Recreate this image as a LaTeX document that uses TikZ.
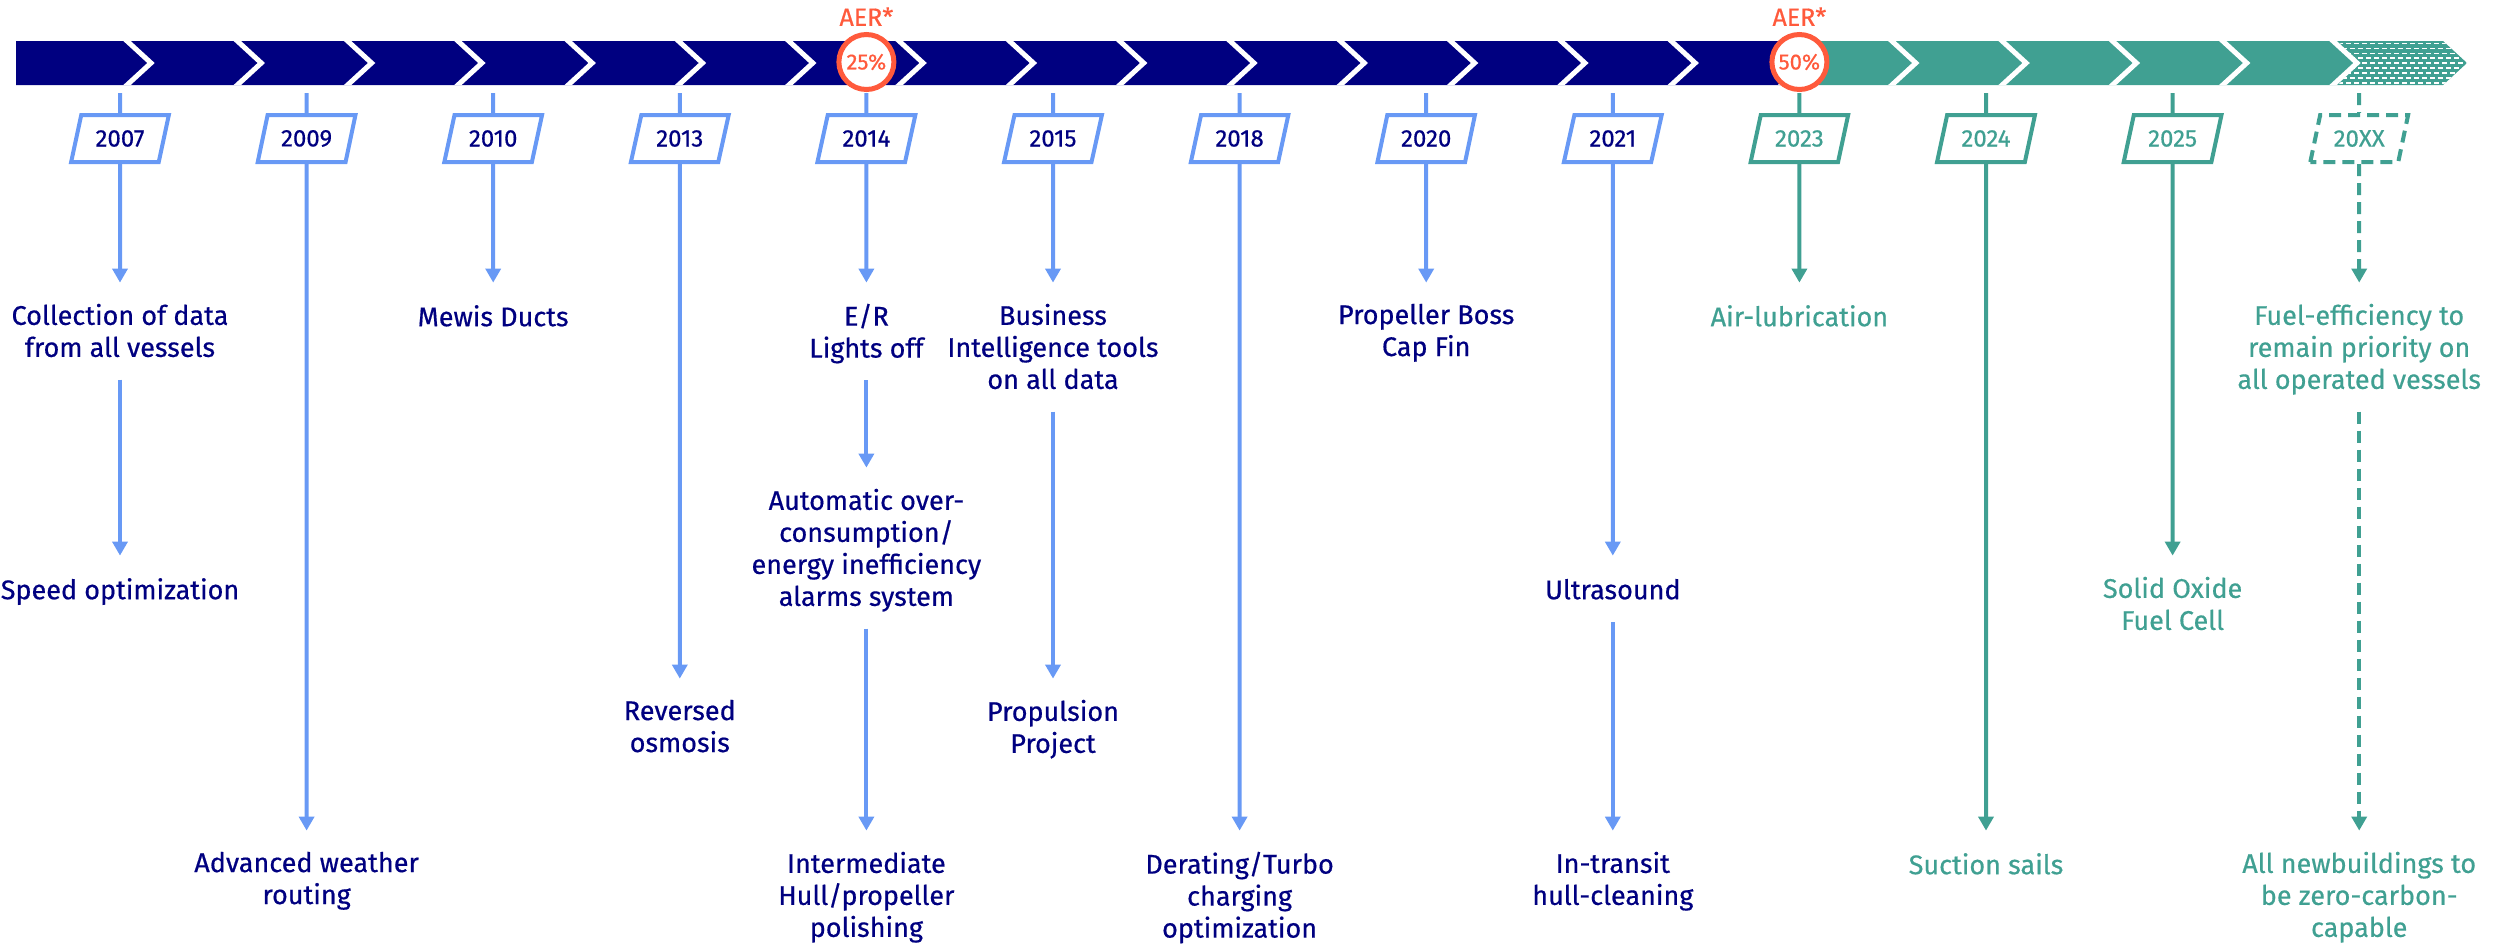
\documentclass[tikz,border=0pt]{standalone}
\usepackage{fontspec}
\setmainfont{Fira Sans}[FakeBold=0.5]
\usetikzlibrary{positioning,arrows.meta,shapes.geometric}

\definecolor{navy}{RGB}{0,0,128}
\definecolor{stemblue}{RGB}{104,153,245}
\definecolor{sea}{RGB}{64,160,146}
\definecolor{aer}{RGB}{255,90,60}

\tikzset{
	yearbox/.style={trapezium, trapezium left angle=69, trapezium right angle=111,
		trapezium stretches=true, minimum width=98pt, minimum height=47pt,
		inner sep=0pt, line width=4pt, fill=white, font=\fontsize{24}{28}\selectfont},
	stem/.style={line width=4pt},
	arr/.style={stem, -{Triangle[length=14pt,width=15pt]}, shorten >=21pt},
	ev/.style={font=\fontsize{27}{32}\selectfont, align=center, inner sep=0pt,
		anchor=north, execute at begin node=\strut, execute at end node=\strut},
	pct/.style={circle, draw=aer, line width=5pt, fill=white, minimum size=55pt,
		inner sep=0pt, text=aer, font=\fontsize{22}{26}\selectfont},
	aerlabel/.style={text=aer, inner sep=0pt, font=\fontsize{25}{30}\selectfont},
	future/.style={dash pattern=on 12pt off 7pt}
}

\begin{document}
\begin{tikzpicture}[x=1pt,y=-1pt]
	
	\useasboundingbox (0,0) rectangle (2493,943);
	
	% we draw the band, navy up to 2023 and green after it
	\begin{scope}
		\clip (16,41) -- (2443,41) -- (2467,63) -- (2443,85) -- (16,85) -- cycle;
		\fill[navy] (16,35) rectangle (1799,91);
		\fill[sea] (1799,35) rectangle (2480,91);
		% the dotted last piece
		\begin{scope}
			\clip (2333,35) -- (2357,63) -- (2333,91) -- (2480,91) -- (2480,35) -- cycle;
			\foreach \r in {0,...,8}
			{
				\pgfmathtruncatemacro\ph{mod(\r,2)*4}
				\draw[white,line width=1.6pt,dash pattern=on 5pt off 3pt,dash phase=\ph pt]
				(2330,{43.5+4.9*\r}) -- (2480,{43.5+4.9*\r});
			}
		\end{scope}
		% the white chevrons
		\foreach \k in {0,...,20}
		{
			\pgfmathsetmacro\t{151+110.3*\k}
			\draw[white,line width=5pt] ({\t-30.5},35) -- (\t,63) -- ({\t-30.5},91);
		}
	\end{scope}
	
	% we draw the year boxes and the stems from the band
	\foreach \yr/\x in {2007/120,2009/306.6,2010/493.2,2013/679.8,2014/866.4,
		2015/1053,2018/1239.6,2020/1426.2,2021/1612.8}
	{
		\coordinate (b\yr) at (\x,93);
		\node[yearbox,draw=stemblue,text=navy] (y\yr) at (\x,138.5) {\yr};
		\draw[stem,stemblue] (b\yr) -- (y\yr);
	}
	\foreach \yr/\x in {2023/1799.4,2024/1986,2025/2172.6}
	{
		\coordinate (b\yr) at (\x,93);
		\node[yearbox,draw=sea,text=sea] (y\yr) at (\x,138.5) {\yr};
		\draw[stem,sea] (b\yr) -- (y\yr);
	}
	\coordinate (b20XX) at (2359.2,93);
	\node[yearbox,draw=sea,text=sea,future] (y20XX) at (2359.2,138.5) {20XX};
	\draw[stem,sea,future] (b20XX) -- (y20XX);
	
	% we draw the AER circles on the band
	\node[pct] (c2014) at (866.4,62) {25\%};
	\node[aerlabel,above=6pt of c2014] (a2014) {AER*};
	\node[pct] (c2023) at (1799.4,62) {50\%};
	\node[aerlabel,above=6pt of c2023] (a2023) {AER*};
	
	% we place the measures under each year
	\node[ev,text=navy] (t2007a) at (120,303.6) {Collection of data\\from all vessels};
	\node[ev,text=navy] (t2007b) at (120,576.6) {Speed optimization};
	\node[ev,text=navy] (t2009a) at (306.6,851.6) {Advanced weather\\routing};
	\node[ev,text=navy] (t2010a) at (493.2,303.6) {Mewis Ducts};
	\node[ev,text=navy] (t2013a) at (679.8,699.6) {Reversed\\osmosis};
	\node[ev,text=navy] (t2014a) at (866.4,303.6) {E/R\\Lights off};
	\node[ev,text=navy] (t2014b) at (866.4,488.6) {Automatic over-\\consumption/\\energy inefficiency\\alarms system};
	\node[ev,text=navy] (t2014c) at (866.4,851.6) {Intermediate\\Hull/propeller\\polishing};
	\node[ev,text=navy] (t2015a) at (1053,303.6) {Business\\Intelligence tools\\on all data};
	\node[ev,text=navy] (t2015b) at (1053,699.6) {Propulsion\\Project};
	\node[ev,text=navy] (t2018a) at (1239.6,851.6) {Derating/Turbo\\charging\\optimization};
	\node[ev,text=navy] (t2020a) at (1426.2,303.6) {Propeller Boss\\Cap Fin};
	\node[ev,text=navy] (t2021a) at (1612.8,576.6) {Ultrasound};
	\node[ev,text=navy] (t2021b) at (1612.8,851.6) {In-transit\\hull-cleaning};
	\node[ev,text=sea] (t2023a) at (1799.4,303.6) {Air-lubrication};
	\node[ev,text=sea] (t2024a) at (1986,851.6) {Suction sails};
	\node[ev,text=sea] (t2025a) at (2172.6,576.6) {Solid Oxide\\Fuel Cell};
	\node[ev,text=sea] (t20XXa) at (2359.2,303.6) {Fuel-efficiency to\\remain priority on\\all operated vessels};
	\node[ev,text=sea] (t20XXb) at (2359.2,851.6) {All newbuildings to\\be zero-carbon-\\capable};
	
	% we draw the arrows from the boxes to the measures
	\foreach \n in {2007,2009,2010,2013,2014,2015,2018,2020,2021}
	\draw[arr,stemblue] (y\n) -- (t\n a);
	\foreach \n in {2023,2024,2025}
	\draw[arr,sea] (y\n) -- (t\n a);
	\draw[arr,sea,future] (y20XX) -- (t20XXa);
	
	% and the arrows between the measures
	\draw[arr,stemblue,shorten <=13pt] (t2007a) -- (t2007b);
	\draw[arr,stemblue,shorten <=13pt] (t2014a) -- (t2014b);
	\draw[arr,stemblue,shorten <=13pt] (t2014b) -- (t2014c);
	\draw[arr,stemblue,shorten <=13pt] (t2015a) -- (t2015b);
	\draw[arr,stemblue,shorten <=13pt] (t2021a) -- (t2021b);
	\draw[arr,sea,future,shorten <=13pt] (t20XXa) -- (t20XXb);
	
\end{tikzpicture}
\end{document}
